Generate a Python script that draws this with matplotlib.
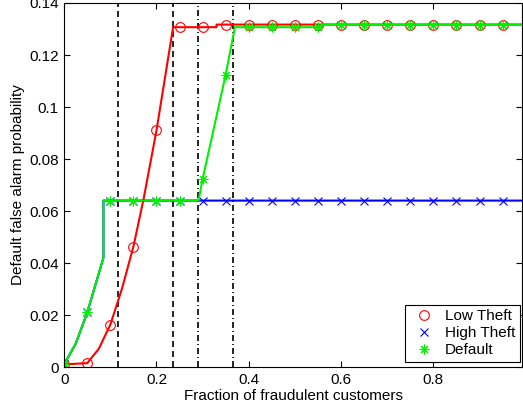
import matplotlib
matplotlib.use("Agg")
import matplotlib.pyplot as plt
from matplotlib.lines import Line2D

plt.rcParams['font.family'] = ['Liberation Sans', 'DejaVu Sans']

# marker positions (every 0.05)
x_mark = [0.0, 0.05, 0.1, 0.15, 0.2, 0.25, 0.3, 0.35, 0.4, 0.45,
          0.5, 0.55, 0.6, 0.65, 0.7, 0.75, 0.8, 0.85, 0.9, 0.95]
low_mark = [0.001, 0.0015, 0.0163, 0.0463, 0.091, 0.1307, 0.1307, 0.1317, 0.1317, 0.1317,
            0.1317, 0.1317, 0.1317, 0.1317, 0.1317, 0.1317, 0.1317, 0.1317, 0.1317, 0.1317]
high_mark = [0.001, 0.021, 0.064, 0.064, 0.064, 0.064, 0.064, 0.064, 0.064, 0.064,
             0.064, 0.064, 0.064, 0.064, 0.064, 0.064, 0.064, 0.064, 0.064, 0.064]
def_mark = [0.001, 0.021, 0.064, 0.064, 0.064, 0.064, 0.0723, 0.1125, 0.1307, 0.1307,
            0.1307, 0.1307, 0.1317, 0.1317, 0.1317, 0.1317, 0.1317, 0.1317, 0.1317, 0.1317]

# line curves
low_x = [0.0, 0.05, 0.075, 0.1, 0.125, 0.15, 0.172, 0.2, 0.236, 0.33, 0.33, 1.0]
low_y = [0.001, 0.0015, 0.007, 0.0163, 0.030, 0.0463, 0.0646, 0.091, 0.1307, 0.1307, 0.1317, 0.1317]
high_x = [0.0, 0.025, 0.05, 0.085, 0.085, 1.0]
high_y = [0.001, 0.009, 0.021, 0.042, 0.064, 0.064]
def_x = [0.0, 0.025, 0.05, 0.085, 0.085, 0.291, 0.3, 0.35, 0.37, 0.56, 0.56, 1.0]
def_y = [0.001, 0.009, 0.021, 0.042, 0.064, 0.064, 0.0723, 0.1125, 0.1307, 0.1307, 0.1317, 0.1317]

# vertical reference lines
dashed_x = [0.116, 0.236]
dashdot_x = [0.290, 0.366]

green = "#00f000"
star = (8, 2, 0)

fig = plt.figure(figsize=(5.23, 4.11), dpi=100)
ax = fig.add_axes([64.2 / 523, 44 / 411, (522 - 64.2) / 523, 364 / 411])

for xv in dashed_x:
    ax.axvline(xv, color="black", lw=1.2, ls=(0, (3.6, 2.4)))
for xv in dashdot_x:
    ax.axvline(xv, color="black", lw=1.2, ls=(0, (3.6, 1.8, 0.6, 1.8)))

ax.plot(low_x, low_y, color="red", lw=1.5)
ax.plot(x_mark, low_mark, ls="none", marker="o", ms=7, mfc="none", mec="red", mew=0.8)
ax.plot(high_x, high_y, color="blue", lw=1.5)
ax.plot(x_mark, high_mark, ls="none", marker="x", ms=6, mec="blue", mew=0.8)
ax.plot(def_x, def_y, color=green, lw=1.5)
ax.plot(x_mark, def_mark, ls="none", marker=star, ms=7, mec=green, mew=0.8)

ax.set_xlim(0, 0.992)
ax.set_ylim(0, 0.14)
ax.set_xticks([0, 0.2, 0.4, 0.6, 0.8])
ax.set_xticklabels(["0", "0.2", "0.4", "0.6", "0.8"])
ax.set_yticks([0, 0.02, 0.04, 0.06, 0.08, 0.1, 0.12, 0.14])
ax.set_yticklabels(["0", "0.02", "0.04", "0.06", "0.08", "0.1", "0.12", "0.14"])
ax.tick_params(direction="in", top=True, right=True, length=4, width=0.8, labelsize=11, pad=4)
for s in ax.spines.values():
    s.set_linewidth(0.8)
ax.set_xlabel("Fraction of fraudulent customers", fontsize=11, labelpad=2)
ax.set_ylabel("Default false alarm probability", fontsize=11, labelpad=3)

handles = [
    Line2D([], [], ls="none", marker="o", ms=7, mfc="none", mec="red", mew=0.8),
    Line2D([], [], ls="none", marker="x", ms=6, mec="blue", mew=0.8),
    Line2D([], [], ls="none", marker=star, ms=7, mec=green, mew=0.8),
]
leg = ax.legend(handles, ["Low Theft", "High Theft", "Default"], loc="lower right",
                bbox_to_anchor=(0.996, 0.014), borderaxespad=0, fontsize=11,
                fancybox=False, framealpha=1, edgecolor="black",
                handlelength=1.8, handletextpad=0.5, labelspacing=0.2, borderpad=0.3)
leg.get_frame().set_linewidth(0.8)

fig.savefig("out.png", dpi=100)
